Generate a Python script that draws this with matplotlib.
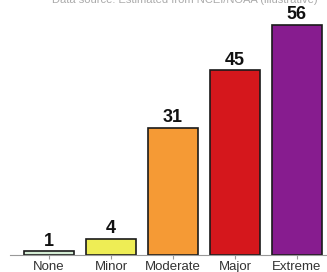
import matplotlib
matplotlib.use("Agg")
import matplotlib.pyplot as plt

plt.rcParams["font.family"] = ["Liberation Sans", "DejaVu Sans"]

categories = ["None", "Minor", "Moderate", "Major", "Extreme"]
counts = [1, 4, 31, 45, 56]
colors = ["#d4ecd4", "#eeed55", "#f59a35", "#d5171c", "#871c8f"]
source_note = "Data source: Estimated from NCEI/NOAA (illustrative)"

fig = plt.figure(figsize=(3.27, 2.72), dpi=100)
ax = fig.add_axes([10 / 327, 17 / 272, 316 / 327, 255 / 272])

x = range(len(categories))
ax.bar(x, counts, width=0.8, color=colors, edgecolor="#1a1a1a", linewidth=1.2)
for xi, v in zip(x, counts):
    ax.text(xi, v + 0.3, str(v), ha="center", va="bottom",
            fontsize=13, fontweight="bold", color="#111111")

ax.set_xlim(-0.63, 4.47)
ax.set_ylim(0, 62)
ax.set_xticks(list(x))
ax.set_xticklabels(categories, fontsize=9.5, color="#333333")
ax.tick_params(axis="x", length=3, color="#999999", pad=1)
ax.set_yticks([])
for side in ("top", "right", "left"):
    ax.spines[side].set_visible(False)
ax.spines["bottom"].set_color("#999999")
ax.spines["bottom"].set_linewidth(0.8)

fig.text(0.565, 1.0, source_note, ha="center", va="center",
         fontsize=8, color="#aaaaaa")

fig.savefig("out.png", dpi=100)
